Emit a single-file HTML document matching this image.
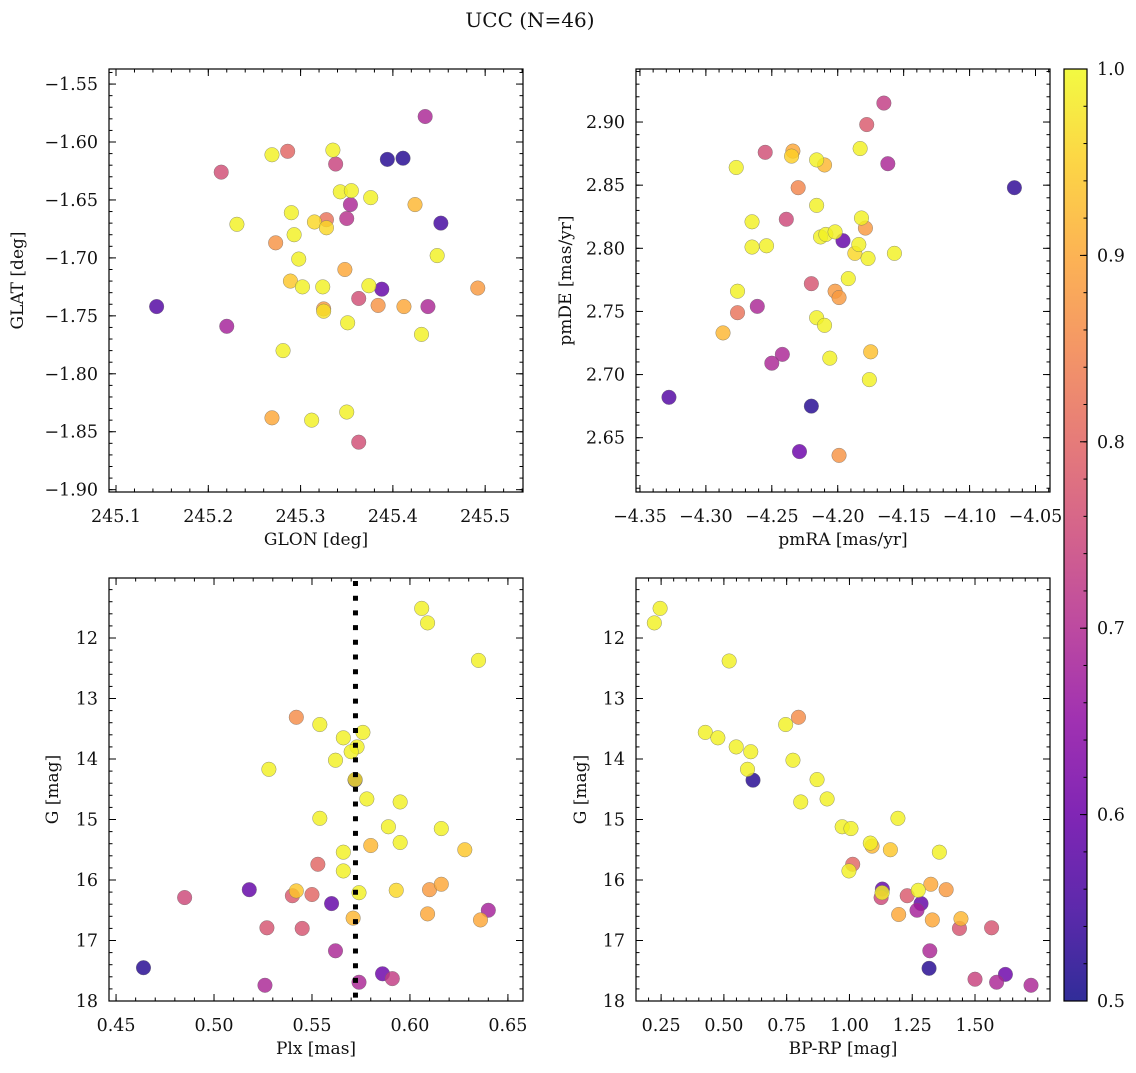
<!DOCTYPE html>
<html><head><meta charset="utf-8"><style>
html,body{margin:0;padding:0;background:#fff;}
svg text{font-family:"DejaVu Serif","Liberation Serif",serif;fill:#111;}
</style></head><body>
<svg id="fig" width="1136" height="1068" viewBox="0 0 1136 1068" xmlns="http://www.w3.org/2000/svg">
<defs>
<linearGradient id="cbgrad" x1="0" y1="1" x2="0" y2="0">
<stop offset="0" stop-color="#0d0887"/><stop offset="0.1" stop-color="#41049d"/><stop offset="0.2" stop-color="#6a00a8"/><stop offset="0.3" stop-color="#8f0da4"/><stop offset="0.4" stop-color="#b12a90"/><stop offset="0.5" stop-color="#cc4778"/><stop offset="0.6" stop-color="#e16462"/><stop offset="0.7" stop-color="#f2844b"/><stop offset="0.8" stop-color="#fca636"/><stop offset="0.9" stop-color="#fcce25"/><stop offset="1" stop-color="#f0f921"/>
</linearGradient>
</defs>
<text x="530" y="27" font-size="20" text-anchor="middle">UCC (N=46)</text>
</svg>
<script>
// Panel 1: GLON vs GLAT
const glon = [245.435,245.269,245.286,245.335,245.338,245.394,245.411,245.214,245.343,245.355,245.376,245.424,245.354,245.350,245.290,245.328,245.315,245.328,245.231,245.452,245.293,245.273,245.298,245.448,245.348,245.289,245.302,245.324,245.374,245.388,245.363,245.492,245.144,245.384,245.325,245.325,245.412,245.438,245.220,245.351,245.431,245.281,245.269,245.312,245.350,245.363];
const glat = [-1.578,-1.611,-1.608,-1.607,-1.619,-1.615,-1.614,-1.626,-1.643,-1.642,-1.648,-1.654,-1.654,-1.666,-1.661,-1.667,-1.669,-1.674,-1.671,-1.670,-1.680,-1.687,-1.701,-1.698,-1.710,-1.720,-1.725,-1.725,-1.724,-1.727,-1.735,-1.726,-1.742,-1.741,-1.744,-1.746,-1.742,-1.742,-1.759,-1.756,-1.766,-1.780,-1.838,-1.840,-1.833,-1.859];
const prob1 = [0.69,0.99,0.8,0.99,0.74,0.52,0.52,0.76,0.99,0.99,0.99,0.92,0.69,0.71,0.99,0.82,0.96,0.96,0.99,0.55,0.99,0.87,0.99,0.99,0.9,0.94,0.99,0.99,0.99,0.59,0.76,0.88,0.57,0.87,0.88,0.97,0.9,0.69,0.68,0.99,0.99,0.99,0.9,0.99,0.99,0.76];
// Panel 2: pmRA vs pmDE
const pmra = [-4.165,-4.178,-4.183,-4.255,-4.234,-4.235,-4.277,-4.216,-4.210,-4.162,-4.066,-4.230,-4.216,-4.265,-4.239,-4.182,-4.179,-4.213,-4.209,-4.202,-4.196,-4.184,-4.187,-4.177,-4.157,-4.265,-4.254,-4.192,-4.220,-4.202,-4.199,-4.276,-4.261,-4.276,-4.287,-4.216,-4.210,-4.242,-4.250,-4.206,-4.175,-4.176,-4.328,-4.220,-4.229,-4.199];
const pmde = [2.915,2.898,2.879,2.876,2.877,2.873,2.864,2.870,2.866,2.867,2.848,2.848,2.834,2.821,2.823,2.824,2.816,2.809,2.811,2.813,2.806,2.803,2.796,2.792,2.796,2.801,2.802,2.776,2.772,2.766,2.761,2.766,2.754,2.749,2.733,2.745,2.739,2.716,2.709,2.713,2.718,2.696,2.682,2.675,2.639,2.636];
const prob2 = [0.73,0.78,0.99,0.76,0.9,0.95,0.99,0.99,0.92,0.69,0.53,0.85,0.99,0.99,0.75,0.99,0.88,0.99,0.99,0.99,0.59,0.99,0.96,0.99,0.99,0.99,0.99,0.99,0.77,0.88,0.88,0.99,0.69,0.82,0.92,0.99,0.99,0.69,0.69,0.99,0.93,0.99,0.57,0.52,0.6,0.87];
// Panel 3: Plx vs G
const plx = [0.572,0.606,0.609,0.635,0.542,0.554,0.566,0.576,0.573,0.570,0.562,0.528,0.572,0.578,0.595,0.554,0.589,0.616,0.580,0.595,0.628,0.566,0.553,0.566,0.518,0.485,0.542,0.540,0.550,0.560,0.574,0.593,0.610,0.616,0.640,0.609,0.636,0.571,0.527,0.545,0.562,0.464,0.526,0.574,0.586,0.591];
const gmag3 = [14.35,11.51,11.75,12.37,13.31,13.43,13.65,13.56,13.80,13.88,14.02,14.17,14.34,14.66,14.71,14.98,15.12,15.15,15.43,15.38,15.50,15.54,15.74,15.85,16.16,16.29,16.18,16.26,16.24,16.39,16.21,16.17,16.16,16.07,16.50,16.56,16.66,16.63,16.79,16.80,17.17,17.45,17.74,17.69,17.55,17.63];
const prob3 = [0.52,0.99,0.99,0.99,0.86,0.99,0.99,0.99,0.99,0.99,0.99,0.99,0.97,0.99,0.99,0.99,0.99,0.99,0.92,0.99,0.94,0.99,0.8,0.99,0.59,0.75,0.94,0.78,0.8,0.59,0.99,0.96,0.88,0.9,0.68,0.9,0.9,0.92,0.77,0.77,0.69,0.52,0.69,0.69,0.6,0.73];
// Panel 4: BP-RP vs G
const bprp = [0.246,0.223,0.521,0.797,0.746,0.426,0.476,0.549,0.607,0.775,0.594,0.616,0.871,0.806,0.911,1.193,0.971,1.006,1.083,1.090,1.163,1.358,1.013,0.998,1.131,1.126,1.130,1.230,1.274,1.324,1.385,1.285,1.269,1.196,1.330,1.444,1.438,1.566,1.320,1.317,1.500,1.586,1.621,1.723];
const gmag4 = [11.51,11.75,12.38,13.31,13.43,13.56,13.65,13.80,13.88,14.02,14.17,14.35,14.34,14.71,14.66,14.98,15.12,15.15,15.39,15.44,15.50,15.54,15.74,15.85,16.15,16.29,16.21,16.26,16.17,16.07,16.16,16.39,16.50,16.57,16.66,16.64,16.80,16.79,17.17,17.46,17.64,17.69,17.56,17.74];
const prob4 = [0.99,0.99,0.99,0.86,0.99,0.99,0.99,0.99,0.99,0.99,0.99,0.52,0.99,0.99,0.99,0.99,0.99,0.99,0.99,0.92,0.94,0.99,0.8,0.99,0.59,0.75,0.99,0.78,0.99,0.9,0.88,0.59,0.68,0.9,0.9,0.92,0.77,0.77,0.69,0.52,0.74,0.69,0.6,0.69];
// Tick labels
const xTicks1 = [245.1,245.2,245.3,245.4,245.5];
const yTicks1 = [-1.55,-1.60,-1.65,-1.70,-1.75,-1.80,-1.85,-1.90];
const xTicks2 = [-4.35,-4.30,-4.25,-4.20,-4.15,-4.10,-4.05];
const yTicks2 = [2.65,2.70,2.75,2.80,2.85,2.90];
const xTicks3 = [0.45,0.50,0.55,0.60,0.65];
const gTicks = [12,13,14,15,16,17,18];
const xTicks4 = [0.25,0.50,0.75,1.00,1.25,1.50];
const cbTicks = [0.5,0.6,0.7,0.8,0.9,1.0];
const plxLine = [0.5722];

const NS = "http://www.w3.org/2000/svg";
const svg = document.getElementById('fig');
const stops = ["#0d0887","#41049d","#6a00a8","#8f0da4","#b12a90","#cc4778","#e16462","#f2844b","#fca636","#fcce25","#f0f921"];
function hex(h){return [parseInt(h.substr(1,2),16),parseInt(h.substr(3,2),16),parseInt(h.substr(5,2),16)];}
function plasma(v){
  let t=Math.max(0,Math.min(1,(v-0.5)/0.5))*10;
  let i=Math.min(9,Math.floor(t)), f=t-i;
  const a=hex(stops[i]), b=hex(stops[i+1]);
  return 'rgb('+a.map((c,k)=>Math.round(c+(b[k]-c)*f)).join(',')+')';
}
function mk(tag, attrs, parent){
  const e=document.createElementNS(NS,tag);
  for(const k in attrs) e.setAttribute(k,attrs[k]);
  (parent||svg).appendChild(e); return e;
}
function fmt(v,d){return (v<0?'\u2212':'')+Math.abs(v).toFixed(d);}

function panel(c){
  const g=mk('g',{});
  
  
  const sx=v=>c.x0+(v-c.xl)/(c.xr-c.xl)*c.w;
  const sy=v=>c.y0+(v-c.yt)/(c.yb-c.yt)*c.h;
  const idx=c.xs.map((_,i)=>i).sort((a,b)=>c.ps[a]-c.ps[b]);
  const pg=mk('g',{},g);
  
  
  idx.forEach(i=>{
    const p=mk('circle',{cx:sx(c.xs[i]),cy:sy(c.ys[i]),r:7.3,fill:plasma(c.ps[i]),'fill-opacity':0.82,stroke:'#666','stroke-width':0.5,'stroke-opacity':0.7},pg);
    
    
  });
  if(c.vline){
    c.vline.forEach(v=>{
      const l=mk('line',{x1:sx(v),x2:sx(v),y1:c.y0+3,y2:c.y0+c.h,stroke:'#000','stroke-width':5,'stroke-dasharray':'5 9.7'},g);
      
      
    });
  }
  const fr=mk('rect',{x:c.x0,y:c.y0,width:c.w,height:c.h,fill:'none',stroke:'#000','stroke-width':1.2},g);
  
  
  const tg=mk('g',{stroke:'#000','stroke-width':1},g);
  function xt(v,len){const X=sx(v); if(X<c.x0-0.5||X>c.x0+c.w+0.5)return;
    mk('line',{x1:X,x2:X,y1:c.y0+c.h,y2:c.y0+c.h-len},tg); mk('line',{x1:X,x2:X,y1:c.y0,y2:c.y0+len},tg);}
  function yt(v,len){const Y=sy(v); if(Y<c.y0-0.5||Y>c.y0+c.h+0.5)return;
    mk('line',{x1:c.x0,x2:c.x0+len,y1:Y,y2:Y},tg); mk('line',{x1:c.x0+c.w,x2:c.x0+c.w-len,y1:Y,y2:Y},tg);}
  const xlo=Math.min(c.xl,c.xr), xhi=Math.max(c.xl,c.xr), ylo=Math.min(c.yt,c.yb), yhi=Math.max(c.yt,c.yb);
  for(let k=Math.ceil(xlo/c.xm);k<=Math.floor(xhi/c.xm);k++) xt(k*c.xm,3.5);
  for(let k=Math.ceil(ylo/c.ym);k<=Math.floor(yhi/c.ym);k++) yt(k*c.ym,3.5);
  c.xt.forEach(v=>{xt(v,7);
    const t=mk('text',{x:sx(v),y:c.y0+c.h+30,'font-size':17.5,'text-anchor':'middle'},g); t.textContent=fmt(v,c.xd);
    
    });
  c.yt2.forEach(v=>{yt(v,7);
    const t=mk('text',{x:c.x0-11,y:sy(v)+6,'font-size':17.5,'text-anchor':'end'},g); t.textContent=fmt(v,c.yd);
    
    });
  const xa=mk('text',{x:c.x0+c.w/2,y:c.y0+c.h+53,'font-size':17,'text-anchor':'middle'},g); xa.textContent=c.xlab;
  
  
  const ya=mk('text',{x:0,y:0,'font-size':17,'text-anchor':'middle',transform:'translate('+(c.ylx+6)+','+(c.y0+c.h/2)+') rotate(-90)'},g); ya.textContent=c.ylab;
  
  
}

panel({name:'glon-glat-panel',x0:109,y0:69,w:414,h:423,xl:245.0924,xr:245.541,yt:-1.537,yb:-1.902,xm:0.02,ym:0.01,
  xt:xTicks1,yt2:yTicks1,xd:1,yd:2,xs:glon,ys:glat,ps:prob1,xlab:'GLON [deg]',ylab:'GLAT [deg]',ylx:17});
panel({name:'pm-panel',x0:636,y0:69,w:414,h:423,xl:-4.353,xr:-4.039,yt:2.942,yb:2.607,xm:0.01,ym:0.01,
  xt:xTicks2,yt2:yTicks2,xd:2,yd:2,xs:pmra,ys:pmde,ps:prob2,xlab:'pmRA [mas/yr]',ylab:'pmDE [mas/yr]',ylx:565});
panel({name:'plx-g-panel',x0:109,y0:578,w:414,h:423,xl:0.4464,xr:0.6577,yt:11.008,yb:18.0,xm:0.01,ym:0.2,
  xt:xTicks3,yt2:gTicks,xd:2,yd:0,xs:plx,ys:gmag3,ps:prob3,xlab:'Plx [mas]',ylab:'G [mag]',ylx:52,vline:plxLine});
panel({name:'cmd-panel',x0:636,y0:578,w:414,h:423,xl:0.150,xr:1.7986,yt:11.008,yb:18.0,xm:0.05,ym:0.2,
  xt:xTicks4,yt2:gTicks,xd:2,yd:0,xs:bprp,ys:gmag4,ps:prob4,xlab:'BP-RP [mag]',ylab:'G [mag]',ylx:580});

const cb=mk('g',{});


const cbx=1064, cby=69, cbw=23, cbh=932;
mk('rect',{x:cbx,y:cby,width:cbw,height:cbh,fill:'url(#cbgrad)','fill-opacity':0.85},cb);
mk('rect',{x:cbx,y:cby,width:cbw,height:cbh,fill:'none',stroke:'#000','stroke-width':1.2},cb);
const cy=v=>cby+cbh-(v-0.5)/0.5*cbh;
for(let k=25;k<=50;k++){const Y=cy(k*0.02); mk('line',{x1:cbx+cbw,x2:cbx+cbw-3.5,y1:Y,y2:Y,stroke:'#000'},cb);}
cbTicks.forEach(v=>{const Y=cy(v); mk('line',{x1:cbx+cbw,x2:cbx+cbw-7,y1:Y,y2:Y,stroke:'#000'},cb);
  const t=mk('text',{x:cbx+cbw+10,y:Y+6,'font-size':17.5},cb); t.textContent=v.toFixed(1);
  
  });
</script>
</body></html>
